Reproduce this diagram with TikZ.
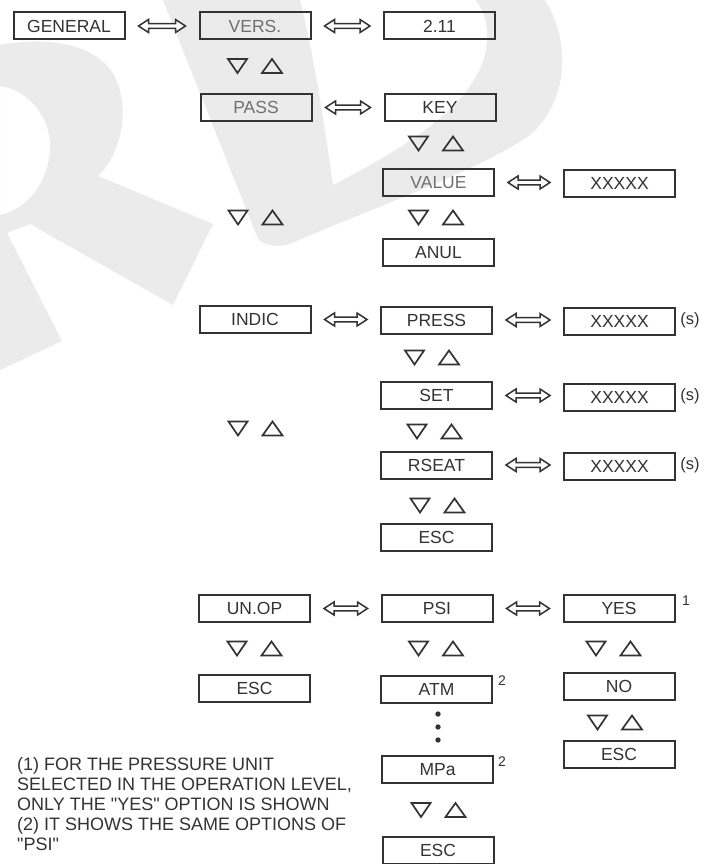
\documentclass[tikz,border=0pt]{standalone}
\usepackage{fontspec}
\setmainfont{Liberation Sans}
\usetikzlibrary{calc}
\definecolor{ink}{HTML}{333333}
\definecolor{soft}{HTML}{707070}
\definecolor{wm}{HTML}{EBEBEB}
\begin{document}
\begin{tikzpicture}[x=1pt,y=-1pt,
  box/.style={draw=ink, line width=2pt, minimum width=111pt, minimum height=27pt,
    inner sep=0pt, text height=12.5pt, text depth=0pt, text=ink,
    font=\fontsize{17.5}{20}\selectfont},
  grey/.style={text=soft},
  supnum/.style={inner sep=0pt, text=ink, font=\fontsize{14}{15}\selectfont},
  unit/.style={inner sep=0pt, text=ink, font=\fontsize{16.5}{18}\selectfont},
  tri/.style={draw=ink, line width=1.7pt, line join=miter},
  dbl/.style={draw=ink, line width=1.5pt, fill=white, line join=miter,
    to path={let \p1=(\tikztostart.east), \p2=(\tikztotarget.west) in
      (\x1+13pt,\y1) -- (\x1+23pt,\y1+6.5pt) -- (\x1+23pt,\y1+2.4pt)
      -- (\x2-23pt,\y1+2.4pt) -- (\x2-23pt,\y1+6.5pt) -- (\x2-13pt,\y1)
      -- (\x2-23pt,\y1-6.5pt) -- (\x2-23pt,\y1-2.4pt) -- (\x1+23pt,\y1-2.4pt)
      -- (\x1+23pt,\y1-6.5pt) -- cycle}},
  updn/.pic={
    \draw[tri] (-27,-7) -- (-8,-7) -- (-17.5,7) -- cycle;
    \draw[tri] (7,7) -- (27,7) -- (17,-7) -- cycle;
  }]
\useasboundingbox (0,0) rectangle (709,864);
\fill[white] (0,0) rectangle (709,864);
% watermark
\fill[wm, even odd rule]
  (0,45) .. controls (40,38) and (90,40) .. (112,72)
  .. controls (130,100) and (125,150) .. (98,176)
  -- (213,224) -- (173,305) -- (30,224) -- (7,233) -- (62,341) -- (0,370) -- cycle
  (0,86) .. controls (30,90) and (52,120) .. (50,150)
  .. controls (48,185) and (25,210) .. (0,215) -- cycle;
\fill[wm, even odd rule]
  (163,0) -- (258,239) .. controls (265,246) and (280,248) .. (292,243)
  .. controls (380,205) and (480,170) .. (530,135)
  .. controls (570,100) and (570,40) .. (545,0) -- cycle
  (300,0) .. controls (315,60) and (325,130) .. (333,185)
  .. controls (400,150) and (470,110) .. (485,55)
  .. controls (490,30) and (485,10) .. (475,0) -- cycle;
% boxes
\node[box] (gen) at (69,26) {GENERAL};
\node[box,grey] (vers) at (255,26) {VERS.};
\node[box] (ver) at (439.5,26) {2.11};
\node[box,grey] (pass) at (256,107.5) {PASS};
\node[box] (key) at (440,107.5) {KEY};
\node[box,grey] (value) at (438.5,182.5) {VALUE};
\node[box] (xval) at (619.5,183) {XXXXX};
\node[box] (anul) at (438.5,252.5) {ANUL};
\node[box] (indic) at (255,319.5) {INDIC};
\node[box] (press) at (436.5,320) {PRESS};
\node[box] (xpress) at (619.5,321) {XXXXX};
\node[box] (set) at (436.5,395.5) {SET};
\node[box] (xset) at (619.5,397) {XXXXX};
\node[box] (rseat) at (436.5,465) {RSEAT};
\node[box] (xrseat) at (619.5,466) {XXXXX};
\node[box] (escA) at (436.5,537.5) {ESC};
\node[box] (unop) at (254.5,608.5) {UN.OP};
\node[box] (psi) at (437,608.5) {PSI};
\node[box] (yes) at (619,608.5) {YES};
\node[box] (escB) at (254.5,688.5) {ESC};
\node[box] (atm) at (436.5,689) {ATM};
\node[box] (no) at (619,686.5) {NO};
\node[box] (escC) at (619,754.5) {ESC};
\node[box] (mpa) at (437.5,769) {MPa};
\node[box] (escD) at (438,850) {ESC};
% side labels
\node[unit] (s1) at (690,320) {(s)};
\node[unit] (s2) at (690,396) {(s)};
\node[unit] (s3) at (690,465) {(s)};
\node[supnum] (n1) at (686,601) {1};
\node[supnum] (n2) at (502,681) {2};
\node[supnum] (n3) at (502,762) {2};
% double arrows
\draw[dbl] (gen) to (vers);
\draw[dbl] (vers) to (ver);
\draw[dbl] (pass) to (key);
\draw[dbl] (value) to (xval);
\draw[dbl] (indic) to (press);
\draw[dbl] (press) to (xpress);
\draw[dbl] (set) to (xset);
\draw[dbl] (rseat) to (xrseat);
\draw[dbl] (unop) to (psi);
\draw[dbl] (psi) to (yes);
% up/down triangles
\pic at (255,66) {updn};
\pic at (436,143.5) {updn};
\pic at (255.5,217.5) {updn};
\pic at (436,217.5) {updn};
\pic at (432,357.5) {updn};
\pic at (434.5,431.5) {updn};
\pic at (255.5,428.5) {updn};
\pic at (437.5,505.5) {updn};
\pic at (254.5,648.5) {updn};
\pic at (436,648.5) {updn};
\pic at (613.5,648.5) {updn};
\pic at (615,722.5) {updn};
\pic at (438.5,810) {updn};
% dots
\fill[ink] (438,714) circle (2.7pt);
\fill[ink] (438,727) circle (2.7pt);
\fill[ink] (438,740) circle (2.7pt);
% notes
\node[anchor=north west, align=left, inner sep=0pt, text=ink,
  font=\fontsize{18}{20}\selectfont] (notes) at (17,757)
  {(1) FOR THE PRESSURE UNIT\\SELECTED IN THE OPERATION LEVEL,\\ONLY THE \textquotedbl YES\textquotedbl{} OPTION IS SHOWN\\(2) IT SHOWS THE SAME OPTIONS OF\\\textquotedbl PSI\textquotedbl};
\end{tikzpicture}
\end{document}
